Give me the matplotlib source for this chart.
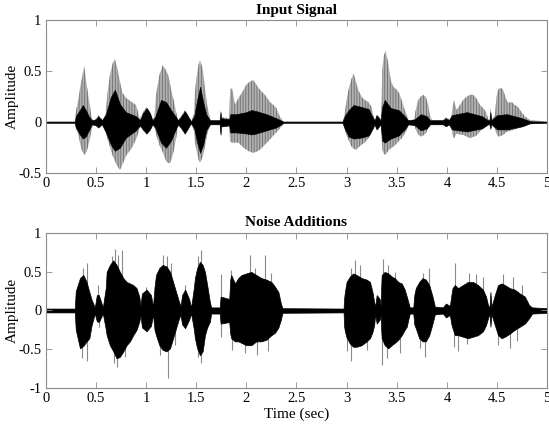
import matplotlib
matplotlib.use("Agg")
import matplotlib.pyplot as plt
import numpy as np

plt.rcParams['font.family'] = ['Liberation Serif', 'DejaVu Serif']
plt.rcParams['axes.unicode_minus'] = False
plt.rcParams['hatch.linewidth'] = 0.6

# ---------------- Input signal: outer (grey) envelope ----------------
in_outer_t = [0.0, 0.29, 0.30, 0.325, 0.342, 0.358, 0.384, 0.408, 0.435, 0.458, 0.475, 0.50, 0.525, 0.56, 0.58,
              0.60, 0.614, 0.64, 0.668, 0.69, 0.714, 0.74, 0.767, 0.807, 0.857, 0.90, 0.923, 0.94, 0.97, 1.006,
              1.04, 1.065, 1.085, 1.10, 1.133, 1.166, 1.20, 1.222, 1.24, 1.255, 1.28, 1.30, 1.32, 1.345, 1.388,
              1.43, 1.45, 1.478, 1.488, 1.51, 1.525, 1.538, 1.565, 1.588, 1.61, 1.637, 1.65, 1.735, 1.744, 1.75,
              1.83, 1.84, 1.86, 1.887, 1.92, 1.963, 2.00, 2.036, 2.07, 2.10, 2.136, 2.186, 2.235, 2.27, 2.30,
              2.335, 2.37, 2.39, 2.96, 2.975, 2.983, 3.00, 3.026, 3.05, 3.07, 3.093, 3.116, 3.15, 3.18, 3.216,
              3.25, 3.265, 3.28, 3.30, 3.32, 3.34, 3.35, 3.355, 3.372, 3.39, 3.415, 3.44, 3.465, 3.50, 3.525,
              3.548, 3.57, 3.60, 3.614, 3.64, 3.675, 3.685, 3.714, 3.737, 3.764, 3.79, 3.814, 3.83, 3.85, 3.96,
              3.99, 4.02, 4.046, 4.056, 4.07, 4.096, 4.13, 4.163, 4.196, 4.23, 4.262, 4.295, 4.33, 4.362, 4.39,
              4.41, 4.425, 4.434, 4.445, 4.478, 4.495, 4.51, 4.535, 4.56, 4.588, 4.61, 4.645, 4.678, 4.71,
              4.744, 4.777, 4.83, 5.0]
in_outer_hi = [0.008, 0.008, 0.10, 0.22, 0.33, 0.42, 0.55, 0.37, 0.20, 0.05, 0.01, 0.03, 0.07, 0.03, 0.01,
               0.10, 0.27, 0.46, 0.58, 0.62, 0.53, 0.40, 0.285, 0.235, 0.20, 0.17, 0.09, 0.03, 0.10, 0.15,
               0.10, 0.02, 0.05, 0.27, 0.46, 0.56, 0.51, 0.46, 0.38, 0.30, 0.20, 0.10, 0.02, 0.05, 0.12,
               0.05, 0.01, 0.08, 0.30, 0.48, 0.57, 0.61, 0.53, 0.33, 0.17, 0.04, 0.02, 0.02, 0.12, 0.05,
               0.04, 0.33, 0.33, 0.17, 0.235, 0.30, 0.37, 0.40, 0.415, 0.37, 0.32, 0.27, 0.20, 0.17, 0.14,
               0.055, 0.007, 0.008, 0.008, 0.05, 0.10, 0.22, 0.35, 0.43, 0.48, 0.40, 0.32, 0.25, 0.22, 0.20,
               0.15, 0.07, 0.02, 0.07, 0.06, 0.02, 0.20, 0.51, 0.66, 0.70, 0.58, 0.415, 0.35, 0.32, 0.285,
               0.22, 0.15, 0.07, 0.02, 0.02, 0.02, 0.10, 0.22, 0.25, 0.27, 0.25, 0.17, 0.07, 0.02, 0.02,
               0.05, 0.03, 0.05, 0.15, 0.22, 0.12, 0.17, 0.22, 0.25, 0.27, 0.27, 0.235, 0.17, 0.14, 0.10,
               0.04, 0.02, 0.14, 0.02, 0.07, 0.25, 0.32, 0.34, 0.32, 0.235, 0.19, 0.20, 0.17, 0.15,
               0.10, 0.06, 0.02, 0.008]
in_outer_lo = [-0.008, -0.008, -0.05, -0.12, -0.20, -0.27, -0.32, -0.29, -0.19, -0.075, -0.01, -0.03, -0.06, -0.03, -0.01,
               -0.08, -0.16, -0.24, -0.33, -0.38, -0.43, -0.47, -0.41, -0.32, -0.255, -0.17, -0.11, -0.04, -0.08, -0.12,
               -0.08, -0.02, -0.05, -0.12, -0.22, -0.29, -0.38, -0.40, -0.40, -0.36, -0.27, -0.16, -0.04, -0.05, -0.12,
               -0.05, -0.01, -0.08, -0.20, -0.30, -0.37, -0.40, -0.34, -0.24, -0.12, -0.04, -0.02, -0.02, -0.14, -0.05,
               -0.04, -0.19, -0.20, -0.20, -0.20, -0.24, -0.27, -0.29, -0.30, -0.29, -0.27, -0.22, -0.17, -0.13, -0.10,
               -0.06, -0.02, -0.008, -0.008, -0.04, -0.075, -0.13, -0.19, -0.24, -0.26, -0.27, -0.25, -0.22, -0.20, -0.16,
               -0.11, -0.07, -0.04, -0.075, -0.06, -0.02, -0.15, -0.27, -0.31, -0.32, -0.28, -0.255, -0.24, -0.21, -0.18,
               -0.16, -0.13, -0.075, -0.035, -0.02, -0.02, -0.06, -0.12, -0.14, -0.13, -0.11, -0.06, -0.04, -0.02, -0.02,
               -0.04, -0.03, -0.05, -0.125, -0.16, -0.11, -0.12, -0.125, -0.14, -0.155, -0.145, -0.13, -0.09, -0.06, -0.04,
               -0.025, -0.02, -0.08, -0.02, -0.06, -0.11, -0.14, -0.135, -0.125, -0.10, -0.09, -0.08, -0.07, -0.06,
               -0.045, -0.035, -0.015, -0.008]

# ---------------- Input signal: inner (black) core ----------------
in_inner_t = [0.0, 0.29, 0.30, 0.34, 0.37, 0.40, 0.43, 0.46, 0.50, 0.525, 0.56, 0.60, 0.65, 0.69, 0.74, 0.80,
              0.90, 0.94, 0.97, 1.006, 1.04, 1.065, 1.09, 1.15, 1.20, 1.25, 1.30, 1.32, 1.345, 1.388, 1.43,
              1.45, 1.48, 1.51, 1.54, 1.57, 1.60, 1.637, 1.735, 1.744, 1.75, 1.83, 1.84, 1.90, 2.00, 2.05,
              2.10, 2.20, 2.30, 2.37, 2.96, 2.98, 3.02, 3.07, 3.15, 3.22, 3.26, 3.28, 3.30, 3.34, 3.355,
              3.38, 3.44, 3.52, 3.58, 3.614, 3.68, 3.74, 3.80, 3.83, 3.96, 3.99, 4.02, 4.05, 4.20, 4.35,
              4.41, 4.425, 4.434, 4.445, 4.50, 4.60, 4.75, 4.83, 5.0]
in_inner_hi = [0.006, 0.006, 0.06, 0.12, 0.17, 0.12, 0.06, 0.02, 0.03, 0.06, 0.02, 0.08, 0.25, 0.32, 0.18, 0.10,
               0.06, 0.02, 0.09, 0.14, 0.09, 0.02, 0.05, 0.22, 0.20, 0.12, 0.05, 0.02, 0.05, 0.11, 0.04,
               0.01, 0.06, 0.22, 0.35, 0.20, 0.08, 0.02, 0.02, 0.10, 0.04, 0.03, 0.08, 0.08, 0.10, 0.12,
               0.11, 0.08, 0.04, 0.006, 0.006, 0.06, 0.12, 0.17, 0.15, 0.13, 0.05, 0.02, 0.07, 0.02, 0.15,
               0.22, 0.14, 0.12, 0.06, 0.02, 0.03, 0.08, 0.06, 0.02, 0.02, 0.04, 0.02, 0.07, 0.10, 0.06,
               0.02, 0.02, 0.10, 0.02, 0.07, 0.08, 0.04, 0.01, 0.006]
in_inner_lo = [-0.006, -0.006, -0.05, -0.12, -0.16, -0.14, -0.08, -0.02, -0.03, -0.05, -0.02, -0.10, -0.22, -0.28, -0.25, -0.15,
               -0.08, -0.03, -0.07, -0.11, -0.07, -0.02, -0.05, -0.20, -0.25, -0.18, -0.06, -0.02, -0.05, -0.11, -0.04,
               -0.01, -0.06, -0.20, -0.30, -0.22, -0.08, -0.02, -0.02, -0.12, -0.04, -0.03, -0.10, -0.10, -0.11, -0.12,
               -0.11, -0.08, -0.05, -0.006, -0.006, -0.06, -0.14, -0.16, -0.15, -0.13, -0.06, -0.02, -0.07, -0.02, -0.18,
               -0.20, -0.16, -0.13, -0.07, -0.02, -0.03, -0.08, -0.06, -0.02, -0.02, -0.04, -0.02, -0.07, -0.09, -0.06,
               -0.02, -0.02, -0.06, -0.02, -0.07, -0.07, -0.04, -0.01, -0.006]

# ---------------- Noisy signal: dense (black) envelope ----------------
nz_t = [0.0, 0.29, 0.30, 0.342, 0.375, 0.408, 0.435, 0.458, 0.49, 0.51, 0.53, 0.57, 0.60, 0.608, 0.64, 0.674,
        0.707, 0.74, 0.774, 0.807, 0.84, 0.873, 0.906, 0.933, 0.945, 0.96, 1.006, 1.05, 1.07, 1.085, 1.10,
        1.133, 1.166, 1.205, 1.24, 1.27, 1.30, 1.33, 1.345, 1.36, 1.39, 1.43, 1.45, 1.478, 1.488, 1.51,
        1.538, 1.565, 1.588, 1.61, 1.637, 1.65, 1.735, 1.744, 1.83, 1.84, 1.85, 1.887, 1.92, 1.953, 2.00,
        2.05, 2.10, 2.15, 2.20, 2.25, 2.285, 2.32, 2.345, 2.36, 2.97, 2.975, 2.983, 3.00, 3.033, 3.066,
        3.10, 3.15, 3.20, 3.233, 3.258, 3.275, 3.285, 3.30, 3.33, 3.34, 3.345, 3.35, 3.38, 3.415, 3.45,
        3.48, 3.515, 3.55, 3.58, 3.60, 3.615, 3.63, 3.665, 3.675, 3.69, 3.724, 3.757, 3.79, 3.824, 3.857,
        3.88, 3.96, 3.99, 4.03, 4.045, 4.056, 4.08, 4.112, 4.16, 4.21, 4.26, 4.31, 4.36, 4.39, 4.41,
        4.425, 4.434, 4.445, 4.478, 4.51, 4.545, 4.578, 4.627, 4.677, 4.728, 4.777, 4.82, 4.85, 5.0]
nz_hi = [0.025, 0.025, 0.25, 0.42, 0.46, 0.37, 0.24, 0.14, 0.04, 0.20, 0.20, 0.04, 0.30, 0.50, 0.59, 0.65,
         0.59, 0.50, 0.42, 0.37, 0.35, 0.33, 0.29, 0.18, 0.06, 0.22, 0.27, 0.20, 0.05, 0.30, 0.46,
         0.55, 0.59, 0.57, 0.50, 0.37, 0.24, 0.11, 0.06, 0.20, 0.27, 0.15, 0.04, 0.30, 0.42, 0.55,
         0.63, 0.59, 0.50, 0.33, 0.11, 0.04, 0.04, 0.18, 0.15, 0.40, 0.46, 0.35, 0.42, 0.46, 0.48,
         0.50, 0.46, 0.42, 0.40, 0.37, 0.31, 0.24, 0.09, 0.03, 0.025, 0.15, 0.24, 0.37, 0.44, 0.48,
         0.46, 0.42, 0.40, 0.37, 0.24, 0.11, 0.05, 0.20, 0.15, 0.06, 0.30, 0.46, 0.50, 0.48, 0.44,
         0.42, 0.37, 0.35, 0.27, 0.18, 0.11, 0.04, 0.04, 0.20, 0.29, 0.37, 0.42, 0.40, 0.33, 0.18,
         0.05, 0.04, 0.09, 0.06, 0.20, 0.29, 0.33, 0.29, 0.33, 0.37, 0.37, 0.33, 0.27, 0.18, 0.07,
         0.04, 0.24, 0.05, 0.20, 0.33, 0.35, 0.33, 0.29, 0.27, 0.22, 0.18, 0.07, 0.04, 0.03]
nz_lo = [-0.025, -0.025, -0.25, -0.49, -0.46, -0.40, -0.36, -0.19, -0.04, -0.14, -0.15, -0.04, -0.25, -0.32, -0.45, -0.53,
         -0.62, -0.60, -0.53, -0.45, -0.40, -0.32, -0.25, -0.145, -0.06, -0.22, -0.27, -0.20, -0.05, -0.25, -0.32,
         -0.45, -0.51, -0.53, -0.49, -0.36, -0.23, -0.10, -0.06, -0.18, -0.23, -0.12, -0.04, -0.25, -0.36, -0.49,
         -0.58, -0.53, -0.32, -0.22, -0.145, -0.04, -0.04, -0.17, -0.15, -0.30, -0.36, -0.40, -0.40, -0.42, -0.45,
         -0.45, -0.40, -0.40, -0.38, -0.32, -0.29, -0.22, -0.12, -0.03, -0.025, -0.20, -0.27, -0.35, -0.43, -0.47,
         -0.47, -0.45, -0.40, -0.36, -0.28, -0.19, -0.05, -0.17, -0.12, -0.06, -0.25, -0.36, -0.45, -0.49, -0.45,
         -0.42, -0.38, -0.32, -0.25, -0.21, -0.12, -0.04, -0.04, -0.18, -0.23, -0.36, -0.40, -0.40, -0.32, -0.17,
         -0.05, -0.04, -0.09, -0.06, -0.18, -0.23, -0.32, -0.32, -0.34, -0.36, -0.34, -0.32, -0.27, -0.19, -0.10,
         -0.04, -0.21, -0.05, -0.19, -0.32, -0.36, -0.34, -0.30, -0.25, -0.21, -0.17, -0.10, -0.04, -0.03]

# ---------------- Noisy signal: isolated grey spike tips ----------------
spike_up_t = [0.37, 0.415, 0.52, 0.66, 0.69, 0.72, 0.757, 1.0, 1.17, 1.21, 1.25, 1.39, 1.52, 1.55, 1.744, 1.85,
              2.04, 2.09, 2.186, 2.25, 3.04, 3.083, 3.13, 3.365, 3.41, 3.48, 3.757, 3.817, 4.08, 4.22, 4.29,
              4.36, 4.56, 4.66, 4.75]
spike_up_a = [0.55, 0.61, 0.33, 0.70, 0.80, 0.72, 0.78, 0.31, 0.72, 0.70, 0.62, 0.33, 0.70, 0.78, 0.47, 0.52,
              0.72, 0.55, 0.72, 0.48, 0.55, 0.65, 0.59, 0.67, 0.59, 0.50, 0.48, 0.55, 0.62, 0.48, 0.47,
              0.44, 0.47, 0.44, 0.33]
spike_dn_t = [0.36, 0.415, 0.53, 0.68, 0.707, 0.79, 1.14, 1.217, 1.29, 1.52, 1.545, 1.744, 1.86, 1.99, 2.11,
              2.22, 3.0, 3.04, 3.2, 3.355, 3.40, 3.53, 3.73, 3.78, 4.07, 4.112, 4.2, 4.51, 4.63, 4.7]
spike_dn_a = [-0.62, -0.66, -0.21, -0.68, -0.73, -0.60, -0.58, -0.88, -0.45, -0.60, -0.68, -0.34, -0.51, -0.55, -0.58,
              -0.53, -0.53, -0.66, -0.51, -0.71, -0.62, -0.55, -0.49, -0.60, -0.47, -0.53, -0.43, -0.45, -0.49, -0.40]

x_ticks = [0, 0.5, 1, 1.5, 2, 2.5, 3, 3.5, 4, 4.5, 5]
x_tick_labels = ["0", "0.5", "1", "1.5", "2", "2.5", "3", "3.5", "4", "4.5", "5"]
top_y_ticks = [-0.5, 0, 0.5, 1]
top_y_labels = ["-0.5", "0", "0.5", "1"]
bot_y_ticks = [-1, -0.5, 0, 0.5, 1]
bot_y_labels = ["-1", "-0.5", "0", "0.5", "1"]

fig = plt.figure(figsize=(5.49, 4.25), dpi=100)
ax1 = fig.add_axes([0.0832, 0.5925, 0.9135, 0.3593])
ax2 = fig.add_axes([0.0832, 0.0878, 0.9135, 0.3633])

frame_col = '#8c8c8c'

def style(ax, yticks, ylabels, ylim):
    ax.set_xlim(0, 5)
    ax.set_ylim(*ylim)
    ax.set_xticks(x_ticks)
    ax.set_xticklabels(x_tick_labels)
    ax.set_yticks(yticks)
    ax.set_yticklabels(ylabels)
    ax.tick_params(direction='in', length=4, width=0.6, color=frame_col, labelsize=10.5,
                   top=True, right=True, pad=3)
    for s in ax.spines.values():
        s.set_color(frame_col)
        s.set_linewidth(0.8)
    ax.set_ylabel('Amplitude', fontsize=11, labelpad=0)

# Top panel: grey outer envelope with vertical striation, black core
ax1.fill_between(in_outer_t, in_outer_lo, in_outer_hi, facecolor='#b0b0b0', edgecolor='#6e6e6e',
                 hatch='||||||', linewidth=0.0, zorder=1)
ax1.fill_between(in_inner_t, in_inner_lo, in_inner_hi, color='black', linewidth=0.4,
                 edgecolor='black', zorder=2)
ax1.axhline(0, color='#333333', linewidth=0.7, linestyle=(0, (1, 0.6)), zorder=1.5)
style(ax1, top_y_ticks, top_y_labels, (-0.5, 1))
ax1.set_title('Input Signal', fontsize=11, fontweight='bold', pad=5)

# Bottom panel: grey isolated spikes behind the dense black envelope
ax2.vlines(spike_up_t, 0, spike_up_a, color='#8a8a8a', linewidth=0.8, zorder=0.5)
ax2.vlines(spike_dn_t, spike_dn_a, 0, color='#8a8a8a', linewidth=0.8, zorder=0.5)
ax2.fill_between(nz_t, nz_lo, nz_hi, color='black', linewidth=0.5, edgecolor='black', zorder=1)
style(ax2, bot_y_ticks, bot_y_labels, (-1, 1))
ax2.set_title('Noise Additions', fontsize=11, fontweight='bold', pad=5)
ax2.set_xlabel('Time (sec)', fontsize=11, labelpad=2)

fig.savefig('out.png', dpi=100)
